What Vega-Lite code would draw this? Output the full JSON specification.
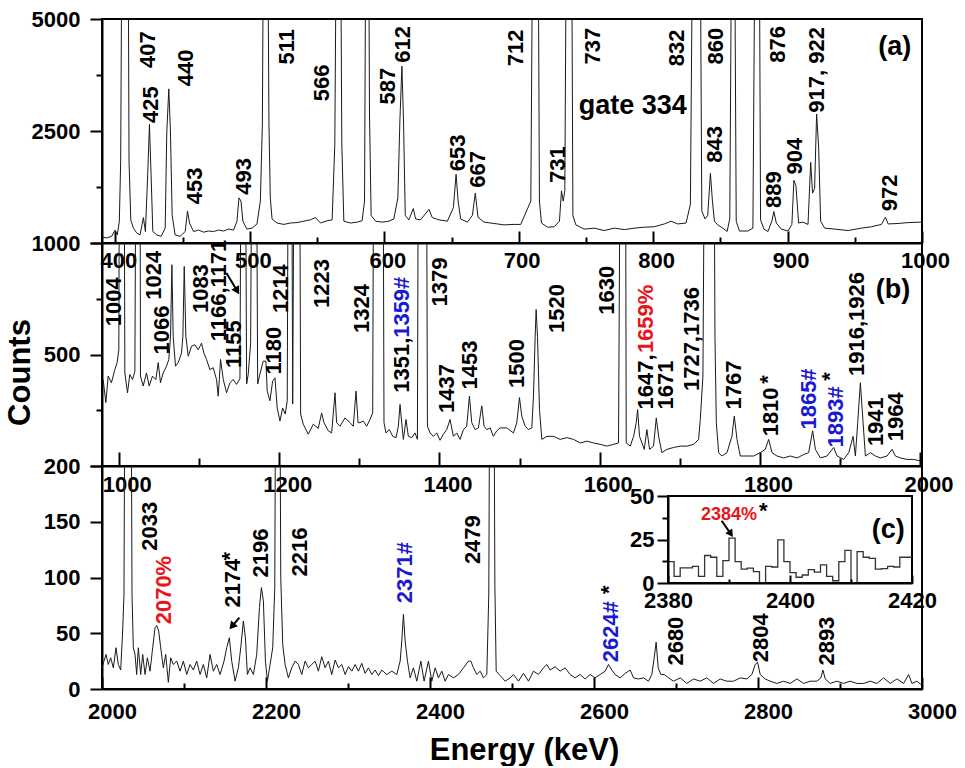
{
  "$schema": "https://vega.github.io/schema/vega-lite/v6.json",
  "background": "white",
  "padding": {"left": 3, "top": 7, "right": 0, "bottom": 0},
  "spacing": 0,
  "bounds": "flush",
  "config": {
    "view": {"stroke": "black", "strokeWidth": 2},
    "axis": {
      "grid": false, "labelFont": "Liberation Sans", "labelFontWeight": "bold", "labelFontSize": 22,
      "labelColor": "black", "labelOverlap": false, "labelFlush": false, "labelBound": false,
      "domainColor": "black", "domainWidth": 2, "tickColor": "black", "tickWidth": 2,
      "titleFont": "Liberation Sans", "titleFontWeight": "bold", "titleFontSize": 31, "titleColor": "black"
    },
    "text": {"font": "Liberation Sans", "fontWeight": "bold", "fontSize": 22}
  },
  "datasets": {
    "specA": [
      {"e":390,"c":1058},{"e":393.5,"c":1050},{"e":397.2,"c":1065},{"e":399.7,"c":1130},{"e":401.4,"c":1080},{"e":402.9,"c":1225},{"e":403.9,"c":2010},{"e":404.9,"c":9000},{"e":409.4,"c":9000},{"e":410.1,"c":2010},{"e":411.4,"c":1240},{"e":413.4,"c":1150},{"e":415.8,"c":1100},{"e":418.3,"c":1080},{"e":420.8,"c":1265},{"e":422.3,"c":1115},{"e":424,"c":1815},{"e":425.3,"c":2620},{"e":426.5,"c":1815},{"e":427.8,"c":1115},{"e":430.7,"c":1080},{"e":434,"c":1065},{"e":437,"c":1150},{"e":438.2,"c":2480},{"e":439.7,"c":3310},{"e":440.9,"c":2500},{"e":442.2,"c":1290},{"e":444.4,"c":1080},{"e":448.1,"c":1065},{"e":451.9,"c":1115},{"e":453.6,"c":1340},{"e":455.1,"c":1205},{"e":458.1,"c":1115},{"e":461.8,"c":1130},{"e":465.5,"c":1108},{"e":469.3,"c":1120},{"e":473,"c":1115},{"e":476.7,"c":1130},{"e":480.4,"c":1120},{"e":484.2,"c":1140},{"e":487.9,"c":1130},{"e":490.4,"c":1225},{"e":491.9,"c":1500},{"e":493.4,"c":1460},{"e":494.8,"c":1225},{"e":497.8,"c":1140},{"e":501.6,"c":1150},{"e":505.3,"c":1195},{"e":507.8,"c":1460},{"e":509.3,"c":2620},{"e":510.2,"c":9000},{"e":513.2,"c":9000},{"e":514.2,"c":2620},{"e":515.2,"c":1500},{"e":516.5,"c":1250},{"e":520.2,"c":1205},{"e":525.2,"c":1190},{"e":530.1,"c":1205},{"e":535.1,"c":1210},{"e":540.1,"c":1225},{"e":545,"c":1240},{"e":548.8,"c":1265},{"e":552.5,"c":1205},{"e":557.5,"c":1230},{"e":561.2,"c":1240},{"e":563.2,"c":2280},{"e":564.4,"c":9000},{"e":567.4,"c":9000},{"e":568.4,"c":2280},{"e":569.9,"c":1225},{"e":574.8,"c":1205},{"e":579.8,"c":1215},{"e":583.5,"c":1230},{"e":585.3,"c":1460},{"e":586.3,"c":9000},{"e":588.3,"c":9000},{"e":589,"c":2810},{"e":590.2,"c":1290},{"e":593.5,"c":1225},{"e":598.4,"c":1215},{"e":603.4,"c":1225},{"e":607.1,"c":1250},{"e":610.1,"c":1500},{"e":611.6,"c":2680},{"e":613.1,"c":3810},{"e":614.3,"c":2680},{"e":615.6,"c":1290},{"e":618.3,"c":1240},{"e":621.6,"c":1370},{"e":623.3,"c":1250},{"e":627,"c":1240},{"e":633.2,"c":1360},{"e":635.7,"c":1265},{"e":640.7,"c":1240},{"e":646.9,"c":1225},{"e":651.4,"c":1380},{"e":653.4,"c":1815},{"e":654.9,"c":1460},{"e":656.8,"c":1250},{"e":661.8,"c":1215},{"e":665.5,"c":1290},{"e":667.7,"c":1560},{"e":669.7,"c":1270},{"e":674.2,"c":1215},{"e":681.7,"c":1200},{"e":689.1,"c":1185},{"e":696.6,"c":1190},{"e":701.5,"c":1190},{"e":709,"c":1460},{"e":710.5,"c":9000},{"e":714.4,"c":9000},{"e":715.4,"c":1460},{"e":716.9,"c":1205},{"e":721.4,"c":1160},{"e":726.4,"c":1165},{"e":730.3,"c":1225},{"e":731.8,"c":1590},{"e":733.1,"c":1460},{"e":734.3,"c":1590},{"e":735.5,"c":9000},{"e":739.3,"c":9000},{"e":740.3,"c":1290},{"e":742.5,"c":1185},{"e":748.7,"c":1140},{"e":756.2,"c":1150},{"e":763.6,"c":1125},{"e":771.1,"c":1150},{"e":778.5,"c":1135},{"e":786,"c":1150},{"e":793.4,"c":1160},{"e":800.9,"c":1165},{"e":808.3,"c":1195},{"e":813.3,"c":1225},{"e":818.3,"c":1195},{"e":824.5,"c":1205},{"e":827.7,"c":1420},{"e":829.5,"c":9000},{"e":834.9,"c":9000},{"e":836.2,"c":1340},{"e":838.6,"c":1250},{"e":840.6,"c":1290},{"e":842.6,"c":1830},{"e":844.1,"c":1460},{"e":845.6,"c":1225},{"e":848.1,"c":1185},{"e":851.8,"c":1150},{"e":855,"c":1115},{"e":857,"c":1250},{"e":858.5,"c":9000},{"e":860.5,"c":9000},{"e":861.8,"c":1225},{"e":864.2,"c":1120},{"e":870.5,"c":1120},{"e":874.2,"c":1150},{"e":875.9,"c":9000},{"e":878.9,"c":9000},{"e":879.9,"c":1240},{"e":882.4,"c":1140},{"e":885.4,"c":1115},{"e":888.3,"c":1225},{"e":889.8,"c":1335},{"e":891.6,"c":1205},{"e":895.3,"c":1140},{"e":900.3,"c":1120},{"e":903.2,"c":1190},{"e":904.7,"c":1730},{"e":906.2,"c":1660},{"e":908.2,"c":1205},{"e":911.4,"c":1215},{"e":915.2,"c":1190},{"e":917.2,"c":1990},{"e":918.6,"c":1560},{"e":920.1,"c":1620},{"e":921.6,"c":2810},{"e":923.1,"c":2230},{"e":924.6,"c":1225},{"e":927.6,"c":1150},{"e":935,"c":1140},{"e":945,"c":1125},{"e":954.9,"c":1150},{"e":962.4,"c":1165},{"e":969.8,"c":1190},{"e":972.8,"c":1270},{"e":974.8,"c":1195},{"e":982.2,"c":1200},{"e":989.7,"c":1210},{"e":999.6,"c":1215}
    ],
    "specB": [
      {"e":980.4,"c":417},{"e":983.8,"c":349},{"e":986.7,"c":428},{"e":990.8,"c":407},{"e":995,"c":449},{"e":997.9,"c":472},{"e":1000,"c":517},{"e":1001.2,"c":3000},{"e":1006.2,"c":3000},{"e":1007.5,"c":438},{"e":1010.8,"c":377},{"e":1013.7,"c":433},{"e":1017.1,"c":417},{"e":1020,"c":444},{"e":1022.1,"c":3000},{"e":1026.2,"c":3000},{"e":1027,"c":428},{"e":1030.4,"c":397},{"e":1034.5,"c":438},{"e":1037.9,"c":397},{"e":1042,"c":428},{"e":1046.2,"c":417},{"e":1049.1,"c":472},{"e":1052,"c":407},{"e":1055.3,"c":438},{"e":1059.5,"c":460},{"e":1062.4,"c":483},{"e":1064.5,"c":567},{"e":1066.2,"c":885},{"e":1067.8,"c":567},{"e":1070.7,"c":460},{"e":1074.1,"c":472},{"e":1078.2,"c":505},{"e":1079.9,"c":567},{"e":1081.6,"c":876},{"e":1083.6,"c":567},{"e":1086.6,"c":494},{"e":1090.7,"c":530},{"e":1094.9,"c":535},{"e":1099,"c":517},{"e":1103.2,"c":541},{"e":1106.1,"c":505},{"e":1109.4,"c":483},{"e":1113.6,"c":449},{"e":1117.8,"c":455},{"e":1121.9,"c":417},{"e":1124,"c":367},{"e":1126.9,"c":483},{"e":1130.3,"c":417},{"e":1134.4,"c":377},{"e":1138.6,"c":407},{"e":1142.7,"c":417},{"e":1146.9,"c":402},{"e":1151.1,"c":420},{"e":1153.2,"c":3000},{"e":1157.3,"c":3000},{"e":1159.4,"c":403},{"e":1161.4,"c":433},{"e":1164.4,"c":540},{"e":1166.9,"c":3000},{"e":1171,"c":3000},{"e":1173.2,"c":403},{"e":1176,"c":434},{"e":1180.1,"c":477},{"e":1183.5,"c":477},{"e":1185.1,"c":382},{"e":1188.5,"c":354},{"e":1191.9,"c":412},{"e":1194.8,"c":422},{"e":1197.6,"c":334},{"e":1201,"c":300},{"e":1204.4,"c":334},{"e":1207.6,"c":318},{"e":1210.1,"c":354},{"e":1211.9,"c":3000},{"e":1215.1,"c":3000},{"e":1216.9,"c":345},{"e":1219.4,"c":3000},{"e":1225.1,"c":3000},{"e":1226.8,"c":318},{"e":1230.1,"c":292},{"e":1236.3,"c":268},{"e":1242.6,"c":292},{"e":1248.8,"c":282},{"e":1253,"c":321},{"e":1255.9,"c":296},{"e":1261.3,"c":276},{"e":1265.5,"c":271},{"e":1269.7,"c":377},{"e":1271.7,"c":296},{"e":1275.9,"c":287},{"e":1282.1,"c":308},{"e":1288.4,"c":296},{"e":1292.5,"c":287},{"e":1295.9,"c":382},{"e":1298.4,"c":296},{"e":1300.9,"c":296},{"e":1305,"c":300},{"e":1309.2,"c":287},{"e":1313.4,"c":304},{"e":1316.7,"c":321},{"e":1318.4,"c":3000},{"e":1329.2,"c":3000},{"e":1330.8,"c":296},{"e":1333.3,"c":271},{"e":1337.5,"c":279},{"e":1341.7,"c":263},{"e":1345.8,"c":260},{"e":1348.7,"c":287},{"e":1350.8,"c":344},{"e":1352.9,"c":296},{"e":1355,"c":256},{"e":1358.3,"c":304},{"e":1361.2,"c":263},{"e":1365.4,"c":260},{"e":1369.5,"c":271},{"e":1372.5,"c":256},{"e":1374.1,"c":3000},{"e":1383.3,"c":3000},{"e":1385,"c":287},{"e":1388.3,"c":271},{"e":1392.4,"c":263},{"e":1396.6,"c":271},{"e":1400.7,"c":254},{"e":1404.9,"c":268},{"e":1409.1,"c":279},{"e":1413.2,"c":304},{"e":1417.4,"c":263},{"e":1421.6,"c":271},{"e":1425.7,"c":256},{"e":1429.9,"c":279},{"e":1434,"c":287},{"e":1437.4,"c":367},{"e":1440.3,"c":296},{"e":1444.5,"c":279},{"e":1448.6,"c":283},{"e":1452.8,"c":340},{"e":1455.7,"c":287},{"e":1459,"c":279},{"e":1463.2,"c":283},{"e":1467.3,"c":263},{"e":1471.5,"c":276},{"e":1475.7,"c":283},{"e":1484,"c":283},{"e":1492.3,"c":271},{"e":1496.5,"c":296},{"e":1499.8,"c":363},{"e":1502.7,"c":313},{"e":1506.9,"c":287},{"e":1511.1,"c":279},{"e":1515.2,"c":283},{"e":1517.3,"c":367},{"e":1519.4,"c":567},{"e":1520.6,"c":675},{"e":1522.3,"c":567},{"e":1524.8,"c":330},{"e":1527.7,"c":256},{"e":1534,"c":263},{"e":1542.3,"c":263},{"e":1550.6,"c":256},{"e":1558.9,"c":260},{"e":1567.3,"c":256},{"e":1575.6,"c":248},{"e":1583.9,"c":252},{"e":1592.2,"c":248},{"e":1600.5,"c":245},{"e":1608.9,"c":241},{"e":1617.2,"c":245},{"e":1623.4,"c":248},{"e":1626.3,"c":3000},{"e":1631.8,"c":3000},{"e":1633,"c":248},{"e":1638,"c":241},{"e":1642.2,"c":263},{"e":1645.5,"c":296},{"e":1647.2,"c":330},{"e":1649.6,"c":263},{"e":1652.6,"c":248},{"e":1655.5,"c":234},{"e":1658.8,"c":279},{"e":1662.1,"c":234},{"e":1667.1,"c":241},{"e":1670.5,"c":308},{"e":1673.4,"c":263},{"e":1677.5,"c":227},{"e":1683.8,"c":234},{"e":1692.1,"c":238},{"e":1700.4,"c":241},{"e":1708.7,"c":241},{"e":1717.1,"c":245},{"e":1723.3,"c":256},{"e":1725.4,"c":304},{"e":1728.7,"c":428},{"e":1731.6,"c":3000},{"e":1742,"c":3000},{"e":1743.7,"c":567},{"e":1745.4,"c":296},{"e":1748.3,"c":227},{"e":1752.4,"c":220},{"e":1758.7,"c":227},{"e":1764.9,"c":263},{"e":1767.8,"c":313},{"e":1771.2,"c":256},{"e":1775.3,"c":220},{"e":1783.6,"c":220},{"e":1792,"c":220},{"e":1800.3,"c":227},{"e":1806.5,"c":234},{"e":1810.7,"c":256},{"e":1814.9,"c":227},{"e":1821.1,"c":220},{"e":1829.4,"c":216},{"e":1837.7,"c":220},{"e":1846.1,"c":216},{"e":1854.4,"c":223},{"e":1860.6,"c":227},{"e":1865.6,"c":276},{"e":1869,"c":234},{"e":1875.2,"c":216},{"e":1883.5,"c":220},{"e":1891.8,"c":238},{"e":1896,"c":220},{"e":1904.3,"c":213},{"e":1910.6,"c":227},{"e":1916,"c":263},{"e":1918.9,"c":220},{"e":1921.8,"c":296},{"e":1925.1,"c":407},{"e":1928.5,"c":296},{"e":1931.4,"c":220},{"e":1937.6,"c":227},{"e":1943.9,"c":220},{"e":1950.1,"c":216},{"e":1958.4,"c":220},{"e":1964.7,"c":234},{"e":1968.8,"c":220},{"e":1975.1,"c":216},{"e":1983.4,"c":213},{"e":1991.7,"c":213},{"e":2000,"c":210}
    ],
    "specC": [
      {"e":2000,"c":19},{"e":2002.4,"c":25},{"e":2004.9,"c":31},{"e":2007.7,"c":22},{"e":2010.6,"c":28},{"e":2013.8,"c":19},{"e":2017.1,"c":37},{"e":2019.9,"c":22},{"e":2022.8,"c":17},{"e":2025.2,"c":52},{"e":2026.8,"c":85},{"e":2028.5,"c":400},{"e":2035,"c":400},{"e":2036.6,"c":85},{"e":2038.2,"c":37},{"e":2040.3,"c":31},{"e":2042.3,"c":13},{"e":2044.3,"c":37},{"e":2047.2,"c":13},{"e":2049.6,"c":31},{"e":2052.5,"c":13},{"e":2055.3,"c":28},{"e":2058.6,"c":16},{"e":2061.8,"c":37},{"e":2064.7,"c":55},{"e":2066.7,"c":57},{"e":2069.1,"c":52},{"e":2071.6,"c":37},{"e":2074.8,"c":19},{"e":2077.7,"c":31},{"e":2080.9,"c":6},{"e":2083.8,"c":28},{"e":2087,"c":22},{"e":2091.1,"c":25},{"e":2095.2,"c":16},{"e":2099.2,"c":25},{"e":2103.3,"c":13},{"e":2107.4,"c":22},{"e":2111.4,"c":17},{"e":2115.5,"c":25},{"e":2119.6,"c":13},{"e":2123.6,"c":22},{"e":2127.7,"c":10},{"e":2131.8,"c":31},{"e":2135.8,"c":16},{"e":2139.9,"c":22},{"e":2144,"c":13},{"e":2148.8,"c":25},{"e":2152.1,"c":37},{"e":2155.3,"c":46},{"e":2158.2,"c":25},{"e":2162.3,"c":7},{"e":2166.3,"c":19},{"e":2169.2,"c":37},{"e":2172.4,"c":61},{"e":2174.9,"c":46},{"e":2177.3,"c":13},{"e":2180.6,"c":19},{"e":2184.6,"c":13},{"e":2188.7,"c":31},{"e":2192,"c":73},{"e":2194.4,"c":91},{"e":2196.8,"c":79},{"e":2199.3,"c":25},{"e":2201.7,"c":7},{"e":2205,"c":22},{"e":2208.2,"c":37},{"e":2210.7,"c":91},{"e":2212.3,"c":400},{"e":2216.3,"c":400},{"e":2218,"c":100},{"e":2220.4,"c":40},{"e":2223.3,"c":22},{"e":2227.3,"c":10},{"e":2231.4,"c":19},{"e":2235.5,"c":25},{"e":2239.5,"c":22},{"e":2243.6,"c":13},{"e":2247.7,"c":25},{"e":2251.7,"c":19},{"e":2255.8,"c":22},{"e":2259.9,"c":25},{"e":2263.9,"c":16},{"e":2268,"c":29},{"e":2272.1,"c":19},{"e":2276.1,"c":25},{"e":2280.2,"c":13},{"e":2284.3,"c":26},{"e":2288.3,"c":19},{"e":2292.4,"c":22},{"e":2296.5,"c":13},{"e":2300.5,"c":20},{"e":2304.6,"c":16},{"e":2308.7,"c":22},{"e":2312.7,"c":16},{"e":2316.8,"c":23},{"e":2320.9,"c":14},{"e":2324.9,"c":19},{"e":2329,"c":13},{"e":2333.1,"c":17},{"e":2337.1,"c":12},{"e":2341.2,"c":17},{"e":2347.3,"c":13},{"e":2353.4,"c":16},{"e":2359.5,"c":13},{"e":2363.6,"c":25},{"e":2365.6,"c":43},{"e":2367.6,"c":67},{"e":2369.7,"c":43},{"e":2372.5,"c":25},{"e":2375.8,"c":10},{"e":2379.8,"c":19},{"e":2383.9,"c":7},{"e":2388.8,"c":25},{"e":2392.8,"c":7},{"e":2398.1,"c":25},{"e":2402.2,"c":7},{"e":2406.3,"c":19},{"e":2410.3,"c":10},{"e":2414.4,"c":16},{"e":2418.5,"c":7},{"e":2422.5,"c":13},{"e":2428.6,"c":10},{"e":2434.7,"c":13},{"e":2440.8,"c":19},{"e":2446.9,"c":25},{"e":2449.8,"c":25},{"e":2453,"c":19},{"e":2457.1,"c":13},{"e":2461.2,"c":16},{"e":2465.2,"c":10},{"e":2469.3,"c":13},{"e":2471.7,"c":85},{"e":2473.4,"c":400},{"e":2477.4,"c":400},{"e":2479.1,"c":94},{"e":2480.7,"c":16},{"e":2485.6,"c":12},{"e":2491.7,"c":7},{"e":2497.8,"c":10},{"e":2501.8,"c":13},{"e":2507.9,"c":7},{"e":2514,"c":14},{"e":2520.1,"c":7},{"e":2526.2,"c":16},{"e":2532.3,"c":13},{"e":2538.4,"c":19},{"e":2542.4,"c":22},{"e":2546.5,"c":17},{"e":2552.6,"c":20},{"e":2558.7,"c":16},{"e":2564.8,"c":19},{"e":2570.9,"c":13},{"e":2577,"c":10},{"e":2583.1,"c":13},{"e":2589.2,"c":9},{"e":2595.3,"c":13},{"e":2601.4,"c":10},{"e":2607.5,"c":13},{"e":2613.6,"c":16},{"e":2617.7,"c":22},{"e":2621.7,"c":17},{"e":2625.8,"c":13},{"e":2631.9,"c":10},{"e":2638,"c":14},{"e":2644.1,"c":17},{"e":2648.2,"c":10},{"e":2654.3,"c":9},{"e":2660.4,"c":10},{"e":2666.5,"c":7},{"e":2670.5,"c":13},{"e":2673.4,"c":28},{"e":2675.8,"c":42},{"e":2678.3,"c":19},{"e":2681.5,"c":13},{"e":2685.6,"c":13},{"e":2690.9,"c":10},{"e":2697,"c":7},{"e":2705.1,"c":10},{"e":2713.2,"c":5},{"e":2721.4,"c":9},{"e":2729.5,"c":7},{"e":2737.6,"c":10},{"e":2745.8,"c":5},{"e":2753.9,"c":9},{"e":2762,"c":7},{"e":2770.2,"c":7},{"e":2778.3,"c":10},{"e":2786.4,"c":9},{"e":2792.5,"c":13},{"e":2796.6,"c":22},{"e":2799.5,"c":24},{"e":2802.7,"c":13},{"e":2808.8,"c":9},{"e":2814.9,"c":7},{"e":2823,"c":5},{"e":2831.2,"c":7},{"e":2839.3,"c":5},{"e":2847.4,"c":9},{"e":2855.6,"c":5},{"e":2863.7,"c":7},{"e":2871.8,"c":7},{"e":2876.7,"c":10},{"e":2879.2,"c":17},{"e":2882,"c":9},{"e":2888.1,"c":5},{"e":2896.2,"c":7},{"e":2904.4,"c":5},{"e":2912.5,"c":7},{"e":2920.6,"c":5},{"e":2928.8,"c":5},{"e":2936.9,"c":7},{"e":2945,"c":5},{"e":2953.2,"c":10},{"e":2961.3,"c":5},{"e":2969.4,"c":9},{"e":2977.6,"c":5},{"e":2983.7,"c":13},{"e":2987.7,"c":5},{"e":2993.8,"c":7},{"e":2998.7,"c":4}
    ],
    "inset": [
      {"e":2380,"c":12.3},{"e":2381,"c":3.8},{"e":2382,"c":8.7},{"e":2383,"c":8.7},{"e":2384,"c":9.6},{"e":2385,"c":3.8},{"e":2386,"c":15.8},{"e":2387,"c":14.8},{"e":2388,"c":3.8},{"e":2389,"c":12.9},{"e":2390,"c":25.8},{"e":2391,"c":12.3},{"e":2392,"c":8},{"e":2393,"c":8.5},{"e":2394,"c":6.5},{"e":2395,"c":0},{"e":2396,"c":9.6},{"e":2397,"c":9.2},{"e":2398,"c":24.8},{"e":2399,"c":12.3},{"e":2400,"c":6},{"e":2401,"c":3.3},{"e":2402,"c":4.6},{"e":2403,"c":7.7},{"e":2404,"c":6.2},{"e":2405,"c":10.4},{"e":2406,"c":3.8},{"e":2407,"c":1.3},{"e":2408,"c":12.3},{"e":2409,"c":18.7},{"e":2410,"c":0},{"e":2411,"c":18},{"e":2412,"c":14.8},{"e":2413,"c":14.2},{"e":2414,"c":8},{"e":2415,"c":8.3},{"e":2416,"c":9.6},{"e":2417,"c":9.2},{"e":2418,"c":14.8},{"e":2419,"c":14.8},{"e":2420,"c":14.8}
    ],
    "labA": [
      {"e":422.6,"c":3770,"t":"407","k":"k"},{"e":425.2,"c":2645,"t":"425","k":"k"},{"e":451.2,"c":3368,"t":"440","k":"k"},{"e":458,"c":1420,"t":"453","k":"k"},{"e":494.1,"c":1540,"t":"493","k":"k"},{"e":526.4,"c":3850,"t":"511","k":"k"},{"e":552.5,"c":3060,"t":"566","k":"k"},{"e":600.9,"c":2995,"t":"587","k":"k"},{"e":612.7,"c":3890,"t":"612","k":"k"},{"e":653.1,"c":1860,"t":"653","k":"k"},{"e":668,"c":1630,"t":"667","k":"k"},{"e":696.5,"c":3810,"t":"712","k":"k"},{"e":727.6,"c":1694,"t":"731","k":"k"},{"e":753.7,"c":3850,"t":"737","k":"k"},{"e":816.3,"c":3810,"t":"832","k":"k"},{"e":844.4,"c":1983,"t":"843","k":"k"},{"e":845.6,"c":3850,"t":"860","k":"k"},{"e":888.5,"c":1376,"t":"889","k":"k"},{"e":891.6,"c":3890,"t":"876","k":"k"},{"e":904,"c":1813,"t":"904","k":"k"},{"e":920.2,"c":2834,"t":"917, 922","k":"k"},{"e":974.8,"c":1338,"t":"972","k":"k"}
    ],
    "labB": [
      {"e":991.9,"c":606,"t":"1004","k":"k"},{"e":1041.8,"c":718,"t":"1024","k":"k"},{"e":1051.5,"c":500,"t":"1066","k":"k"},{"e":1100.4,"c":660,"t":"1083","k":"k"},{"e":1123,"c":548,"t":"1166,1171","k":"k"},{"e":1141.7,"c":454,"t":"1155","k":"k"},{"e":1191.6,"c":433,"t":"1180","k":"k"},{"e":1199.8,"c":660,"t":"1214","k":"k"},{"e":1250.9,"c":682,"t":"1223","k":"k"},{"e":1300.9,"c":580,"t":"1324","k":"k"},{"e":1350.8,"c":377,"t":"1351,","k":"k"},{"e":1350.8,"c":561,"t":"1359#","k":"b"},{"e":1397.6,"c":688,"t":"1379","k":"k"},{"e":1407,"c":321,"t":"1437","k":"k"},{"e":1435.1,"c":387,"t":"1453","k":"k"},{"e":1494.4,"c":391,"t":"1500","k":"k"},{"e":1544.3,"c":580,"t":"1520","k":"k"},{"e":1606.7,"c":653,"t":"1630","k":"k"},{"e":1654.6,"c":330,"t":"1647,","k":"k"},{"e":1654.6,"c":505,"t":"1659%","k":"r"},{"e":1679.6,"c":330,"t":"1671","k":"k"},{"e":1712.9,"c":382,"t":"1727,1736","k":"k"},{"e":1764.9,"c":330,"t":"1767","k":"k"},{"e":1811.5,"c":263,"t":"1810","k":"k"},{"e":1858.6,"c":279,"t":"1865#","k":"b"},{"e":1891.8,"c":238,"t":"1893#","k":"b"},{"e":1918.9,"c":428,"t":"1916,1926","k":"k"},{"e":1942.6,"c":241,"t":"1941","k":"k"},{"e":1967.5,"c":252,"t":"1964","k":"k"}
    ],
    "labC": [
      {"e":2056.5,"c":124,"t":"2033","k":"k"},{"e":2072.8,"c":58,"t":"2070%","k":"r"},{"e":2157.2,"c":73,"t":"2174","k":"k"},{"e":2191.8,"c":100,"t":"2196","k":"k"},{"e":2239.5,"c":101,"t":"2216","k":"k"},{"e":2366.6,"c":77,"t":"2371#","k":"b"},{"e":2449.9,"c":112,"t":"2479","k":"k"},{"e":2618.5,"c":24,"t":"2624#","k":"b"},{"e":2697,"c":21,"t":"2680","k":"k"},{"e":2801.7,"c":24,"t":"2804","k":"k"},{"e":2882,"c":21,"t":"2893","k":"k"}
    ]
  },
  "vconcat": [
    {
      "width": 820, "height": 224,
      "layer": [
        {
          "data": {"name": "specA"},
          "mark": {"type": "line", "color": "#1a1a1a", "strokeWidth": 1, "clip": true},
          "encoding": {
            "x": {"field": "e", "type": "quantitative",
              "scale": {"domain": [390, 1000], "nice": false, "zero": false},
              "axis": {"title": null, "values": [400,450,500,550,600,650,700,750,800,850,900,950,1000], "format": "d",
                "labelExpr": "datum.value % 100 === 0 ? datum.label : ''",
                "tickSize": {"condition": {"test": "datum.value % 100 === 0", "value": -12}, "value": -6},
                "labelPadding": 19, "labelOffset": 3}},
            "y": {"field": "c", "type": "quantitative",
              "scale": {"type": "pow", "exponent": 0.35, "domain": [1000, 5000], "nice": false, "zero": false},
              "axis": {"title": null, "values": [1000,1639,2500,3613,5000], "format": "d",
                "labelExpr": "indexof([1000,2500,5000], datum.value) >= 0 ? datum.label : ''",
                "tickSize": {"condition": {"test": "indexof([1000,2500,5000], datum.value) >= 0", "value": 12}, "value": 6},
                "labelPadding": 10}}
          }
        },
        {
          "data": {"name": "labA"},
          "mark": {"type": "text", "angle": 270, "align": "left", "baseline": "middle", "dy": 2},
          "encoding": {
            "x": {"field": "e", "type": "quantitative"},
            "y": {"field": "c", "type": "quantitative"},
            "text": {"field": "t"},
            "color": {"field": "k", "type": "nominal", "scale": {"domain": ["k","r","b"], "range": ["black","#e8151b","#1a1ad2"]}, "legend": null}
          }
        },
        {
          "data": {"values": [{"e": 784.8, "c": 2815, "t": "gate 334"}, {"e": 979.8, "c": 4070, "t": "(a)"}]},
          "mark": {"type": "text", "fontSize": 27, "align": "center", "baseline": "alphabetic", "color": "black"},
          "encoding": {
            "x": {"field": "e", "type": "quantitative"},
            "y": {"field": "c", "type": "quantitative"},
            "text": {"field": "t"}
          }
        }
      ]
    },
    {
      "width": 820, "height": 223,
      "layer": [
        {
          "data": {"name": "specB"},
          "mark": {"type": "line", "color": "#1a1a1a", "strokeWidth": 1, "clip": true},
          "encoding": {
            "x": {"field": "e", "type": "quantitative",
              "scale": {"domain": [979, 2002], "nice": false, "zero": false},
              "axis": {"title": null, "values": [1000,1100,1200,1300,1400,1500,1600,1700,1800,1900,2000], "format": "d",
                "labelExpr": "datum.value % 200 === 0 ? datum.label : ''",
                "tickSize": {"condition": {"test": "datum.value % 200 === 0", "value": -14}, "value": -8},
                "labelPadding": 22, "labelOffset": 8}},
            "y": {"field": "c", "type": "quantitative",
              "scale": {"type": "pow", "exponent": 0.35, "domain": [200, 1000], "nice": false, "zero": false},
              "axis": {"title": "Counts", "titleAngle": 270, "titleAlign": "center", "titleBaseline": "middle", "titleX": -82, "titleY": 129,
                "values": [200,328,500,722,1000], "format": "d",
                "labelExpr": "indexof([200,500], datum.value) >= 0 ? datum.label : ''",
                "tickSize": {"condition": {"test": "indexof([200,500,1000], datum.value) >= 0", "value": 12}, "value": 6},
                "labelPadding": 10}}
          }
        },
        {
          "data": {"name": "labB"},
          "mark": {"type": "text", "angle": 270, "align": "left", "baseline": "middle", "dy": 2},
          "encoding": {
            "x": {"field": "e", "type": "quantitative"},
            "y": {"field": "c", "type": "quantitative"},
            "text": {"field": "t"},
            "color": {"field": "k", "type": "nominal", "scale": {"domain": ["k","r","b"], "range": ["black","#e8151b","#1a1ad2"]}, "legend": null}
          }
        },
        {
          "data": {"values": [{"e": 1809.5, "c": 417, "t": "*"}, {"e": 1887.6, "c": 427, "t": "*"}]},
          "mark": {"type": "text", "angle": 270, "align": "center", "baseline": "middle", "color": "black"},
          "encoding": {
            "x": {"field": "e", "type": "quantitative"},
            "y": {"field": "c", "type": "quantitative"},
            "text": {"field": "t"}
          }
        },
        {
          "data": {"values": [{"e": 1965.7, "c": 724, "t": "(b)"}]},
          "mark": {"type": "text", "fontSize": 27, "align": "center", "baseline": "alphabetic", "color": "black"},
          "encoding": {
            "x": {"field": "e", "type": "quantitative"},
            "y": {"field": "c", "type": "quantitative"},
            "text": {"field": "t"}
          }
        },
        {
          "data": {"values": [{"e": 1134.2, "c": 843, "e2": 1147.6, "c2": 758}]},
          "mark": {"type": "rule", "color": "black", "strokeWidth": 2},
          "encoding": {
            "x": {"field": "e", "type": "quantitative"},
            "y": {"field": "c", "type": "quantitative"},
            "x2": {"field": "e2"},
            "y2": {"field": "c2"}
          }
        },
        {
          "data": {"values": [{"e": 1147.6, "c": 758}]},
          "mark": {"type": "point", "shape": "triangle-right", "filled": true, "size": 80, "angle": 59, "color": "black", "opacity": 1},
          "encoding": {
            "x": {"field": "e", "type": "quantitative"},
            "y": {"field": "c", "type": "quantitative"}
          }
        }
      ]
    },
    {
      "width": 820, "height": 223,
      "layer": [
        {
          "layer": [
            {
              "data": {"name": "specC"},
              "mark": {"type": "line", "color": "#1a1a1a", "strokeWidth": 1, "clip": true},
              "encoding": {
                "x": {"field": "e", "type": "quantitative",
                  "scale": {"domain": [2000, 3000], "nice": false, "zero": false},
                  "axis": {"title": "Energy (keV)", "titleX": 422, "titleY": 46, "titleAlign": "center", "titleBaseline": "top",
                    "values": [2000,2100,2200,2300,2400,2500,2600,2700,2800,2900,3000], "format": "d",
                    "labelExpr": "datum.value % 200 === 0 ? datum.label : ''",
                    "tickSize": {"condition": {"test": "datum.value % 200 === 0", "value": -12}, "value": -6},
                    "labelPadding": 24, "labelOffset": 10, "orient": "bottom"}},
                "y": {"field": "c", "type": "quantitative",
                  "scale": {"domain": [0, 200], "nice": false, "zero": false},
                  "axis": {"title": null, "values": [0,25,50,75,100,125,150,175,200], "format": "d", "orient": "left",
                    "labelExpr": "datum.value % 50 === 0 && datum.value < 200 ? datum.label : ''",
                    "tickSize": {"condition": {"test": "datum.value % 50 === 0", "value": 12}, "value": 6},
                    "labelPadding": 10}}
              }
            },
            {
              "data": {"name": "labC"},
              "mark": {"type": "text", "angle": 270, "align": "left", "baseline": "middle", "dy": 2},
              "encoding": {
                "x": {"field": "e", "type": "quantitative"},
                "y": {"field": "c", "type": "quantitative"},
                "text": {"field": "t"},
                "color": {"field": "k", "type": "nominal", "scale": {"domain": ["k","r","b"], "range": ["black","#e8151b","#1a1ad2"]}, "legend": null}
              }
            },
            {
              "data": {"values": [{"e": 2156.2, "c": 119, "t": "*"}, {"e": 2617.8, "c": 89, "t": "*"}]},
              "mark": {"type": "text", "angle": 270, "align": "center", "baseline": "middle", "color": "black"},
              "encoding": {
                "x": {"field": "e", "type": "quantitative"},
                "y": {"field": "c", "type": "quantitative"},
                "text": {"field": "t"}
              }
            },
            {
              "data": {"values": [{"e": 2167.5, "c": 64, "e2": 2158.5, "c2": 56.2}]},
              "mark": {"type": "rule", "color": "black", "strokeWidth": 2},
              "encoding": {
                "x": {"field": "e", "type": "quantitative"},
                "y": {"field": "c", "type": "quantitative"},
                "x2": {"field": "e2"},
                "y2": {"field": "c2"}
              }
            },
            {
              "data": {"values": [{"e": 2158.5, "c": 56.2}]},
              "mark": {"type": "point", "shape": "triangle-right", "filled": true, "size": 80, "angle": 131, "color": "black", "opacity": 1},
              "encoding": {
                "x": {"field": "e", "type": "quantitative"},
                "y": {"field": "c", "type": "quantitative"}
              }
            }
          ]
        },
        {
          "layer": [
            {
              "data": {"values": [{"e": 2380, "e2": 2420, "c": 0, "c2": 50}]},
              "mark": {"type": "rect", "fill": "white", "stroke": "black", "strokeWidth": 2},
              "encoding": {
                "x": {"field": "e", "type": "quantitative",
                  "scale": {"domain": [2380, 2420], "range": [566, 810], "nice": false, "zero": false},
                  "axis": {"title": null, "orient": "bottom", "offset": -106, "zindex": 2, "values": [2380,2390,2400,2410,2420], "format": "d",
                    "labelExpr": "datum.value % 20 === 0 ? datum.label : ''",
                    "tickSize": {"condition": {"test": "datum.value % 20 === 0", "value": -8}, "value": -4},
                    "labelPadding": 15}},
                "x2": {"field": "e2"},
                "y": {"field": "c", "type": "quantitative",
                  "scale": {"domain": [0, 50], "range": [117, 30], "nice": false, "zero": false},
                  "axis": {"title": null, "orient": "left", "offset": -566, "zindex": 2, "values": [0,12.5,25,37.5,50],
                    "labelExpr": "datum.value % 25 === 0 ? datum.label : ''",
                    "tickSize": {"condition": {"test": "datum.value % 25 === 0", "value": 11}, "value": 6},
                    "labelPadding": 3}},
                "y2": {"field": "c2"}
              }
            },
            {
              "data": {"name": "inset"},
              "mark": {"type": "line", "interpolate": "step-after", "color": "#333333", "strokeWidth": 1.3},
              "encoding": {
                "x": {"field": "e", "type": "quantitative"},
                "y": {"field": "c", "type": "quantitative"}
              }
            },
            {
              "data": {"values": [{"e": 2390, "c": 36.4, "t": "2384%"}]},
              "mark": {"type": "text", "fontSize": 18, "align": "center", "baseline": "alphabetic", "color": "#e8151b"},
              "encoding": {
                "x": {"field": "e", "type": "quantitative"},
                "y": {"field": "c", "type": "quantitative"},
                "text": {"field": "t"}
              }
            },
            {
              "data": {"values": [{"e": 2395.6, "c": 41.5, "t": "*"}]},
              "mark": {"type": "text", "align": "center", "baseline": "middle", "color": "black"},
              "encoding": {
                "x": {"field": "e", "type": "quantitative"},
                "y": {"field": "c", "type": "quantitative"},
                "text": {"field": "t"}
              }
            },
            {
              "data": {"values": [{"e": 2416.1, "c": 26, "t": "(c)"}]},
              "mark": {"type": "text", "fontSize": 27, "align": "center", "baseline": "alphabetic", "color": "black"},
              "encoding": {
                "x": {"field": "e", "type": "quantitative"},
                "y": {"field": "c", "type": "quantitative"},
                "text": {"field": "t"}
              }
            },
            {
              "data": {"values": [{"e": 2388.8, "c": 35.8, "e2": 2390.3, "c2": 28.2}]},
              "mark": {"type": "rule", "color": "black", "strokeWidth": 2},
              "encoding": {
                "x": {"field": "e", "type": "quantitative"},
                "y": {"field": "c", "type": "quantitative"},
                "x2": {"field": "e2"},
                "y2": {"field": "c2"}
              }
            },
            {
              "data": {"values": [{"e": 2390.3, "c": 28.2}]},
              "mark": {"type": "point", "shape": "triangle-right", "filled": true, "size": 70, "angle": 55, "color": "black", "opacity": 1},
              "encoding": {
                "x": {"field": "e", "type": "quantitative"},
                "y": {"field": "c", "type": "quantitative"}
              }
            }
          ]
        }
      ],
      "resolve": {"scale": {"x": "independent", "y": "independent"}, "axis": {"x": "independent", "y": "independent"}}
    }
  ]
}
